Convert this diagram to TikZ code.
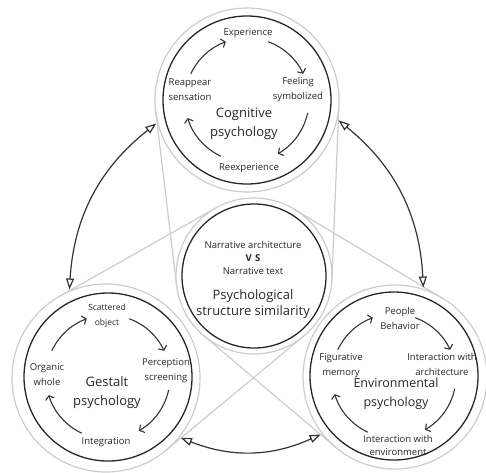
\documentclass[tikz,border=0pt]{standalone}
\usepackage{fontspec}
\setmainfont{Open Sans}
\usetikzlibrary{arrows.meta}

\tikzset{
	halo/.style={circle, draw=black!20, line width=1.2pt, inner sep=0pt, outer sep=0pt},
	ring/.style={circle, draw=black!85, line width=1.3pt, inner sep=0pt, outer sep=0pt},
	tangent/.style={draw=black!20, line width=1.2pt},
	lbl/.style={text=black!85, align=center, font=\fontsize{9.5}{15}\selectfont},
	headline/.style={text=black!85, align=center, font=\fontsize{13}{19}\selectfont},
	cyc/.style={draw=black!80, line width=1.1pt, -{Straight Barb[length=3.5pt,width=9pt]}},
	link/.style={draw=black!80, line width=1.2pt, shorten <=2pt, shorten >=2pt,
		{Triangle[open,length=11pt,width=8pt]}-{Triangle[open,length=11pt,width=8pt]}}
}

\begin{document}
\begin{tikzpicture}[x=1pt,y=1pt]
	\useasboundingbox (0,0) rectangle (486,-472);

	% gray outlines
	\node[halo, minimum size=156pt] (h0) at (254,-276) {};
	\node[halo, minimum size=184pt] (h1) at (247,-100) {};
	\node[halo, minimum size=188pt] (h2) at (106,-378) {};
	\node[halo, minimum size=184pt] (h3) at (395,-377) {};

	\foreach \i / \a in {
	1/-2, 1/187,
	2/120, 2/-51,
	3/59, 3/230}
	{
		\path[tangent] (h\i.\a) edge (h0.\a);
	};

	% circles
	\node[ring, minimum size=144pt] (c0) at (254,-276) {};
	\node[ring, minimum size=168pt] (c1) at (247,-100) {};
	\node[ring, minimum size=168pt] (c2) at (108,-377) {};
	\node[ring, minimum size=168pt] (c3) at (394,-376) {};

	\foreach \i in {1,2,3}
	{
		\foreach \a / \b in {155/110, 70/25, -12/-60, 245/197}
		{
			\draw[cyc] ([shift={(\a:62)}]c\i.center) arc[start angle=\a, end angle=\b, radius=62];
		};
	};

	% cognitive
	\node[lbl] (t1) at (248,-33) {Experience};
	\node[lbl] (t2) at (298,-90) {Feeling\\symbolized};
	\node[lbl] (t3) at (249,-168) {Reexperience};
	\node[lbl] (t4) at (190,-90) {Reappear\\sensation};
	\node[headline] (t0) at (244,-124) {Cognitive\\psychology};

	% gestalt
	\node[lbl, font=\fontsize{8.5}{15}\selectfont] (g1) at (107,-316) {Scattered\\object};
	\node[lbl] (g2) at (166,-371) {Perception\\screening};
	\node[lbl] (g3) at (106,-442) {Integration};
	\node[lbl] (g4) at (47,-375) {Organic\\whole};
	\node[headline] (g0) at (107,-393) {Gestalt\\psychology};

	% environmental
	\node[lbl] (e1) at (400,-318) {People\\Behavior};
	\node[lbl] (e2) at (442,-364) {Interaction with\\architecture};
	\node[lbl, font=\fontsize{9.5}{13}\selectfont] (e3) at (398,-445) {Interaction with\\environment};
	\node[lbl] (e4) at (341,-366) {Figurative\\memory};
	\node[headline, font=\fontsize{12.5}{19}\selectfont] (e0) at (396,-394) {Environmental\\psychology};

	% middle
	\node[lbl, font=\fontsize{9.5}{13}\selectfont] (m1) at (253,-258) {Narrative architecture\\{\bfseries V\,\,S}\\Narrative text};
	\node[headline, font=\fontsize{13}{16}\selectfont] (m0) at (253,-304) {Psychological\\structure similarity};

	% links
	\draw[link] (h1.194) to[bend right=24] (h2.113);
	\draw[link] (h1.-12) to[bend left=24] (h3.72);
	\draw[link] (h2.-39) to[bend right=23] (h3.218);
\end{tikzpicture}
\end{document}
